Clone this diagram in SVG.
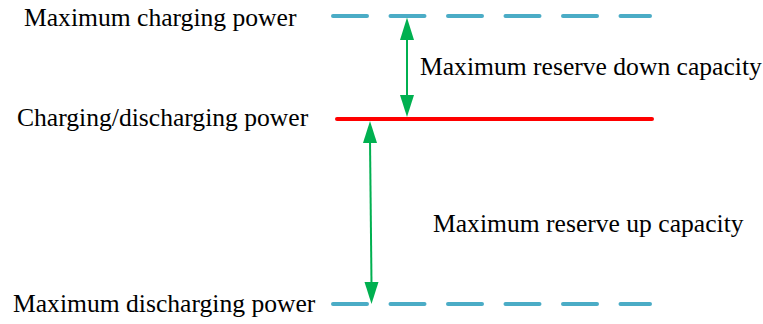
<svg xmlns="http://www.w3.org/2000/svg" width="763" height="324" viewBox="0 0 763 324">
<defs>
<style>
.lbl{font-family:"Liberation Serif","Times New Roman",serif;font-size:25.6px;fill:#000}
.dash{stroke:#4BACC6;stroke-width:4;stroke-linecap:round;stroke-dasharray:34 23.5;fill:none}
.arr{stroke:#00B050;stroke-width:2;fill:none}
.head{fill:#00B050}
</style>
</defs>
<rect width="763" height="324" fill="#fff"/>
<g id="max-charging">
<line class="dash" x1="333" y1="16" x2="650" y2="16"/>
<text class="lbl" x="24" y="26">Maximum charging power</text>
</g>
<g id="charging-discharging">
<line x1="337" y1="119" x2="652" y2="119" stroke="#FF0000" stroke-width="4" stroke-linecap="round"/>
<text class="lbl" x="17" y="126">Charging/discharging power</text>
</g>
<g id="max-discharging">
<line class="dash" x1="333" y1="304" x2="650" y2="304"/>
<text class="lbl" x="13" y="312">Maximum discharging power</text>
</g>
<g id="labels">
<text class="lbl" x="420" y="75">Maximum reserve down capacity</text>
<text class="lbl" x="433" y="232">Maximum reserve up capacity</text>
</g>
<g id="connectors">
<line class="arr" x1="407" y1="38" x2="407" y2="96"/>
<polygon class="head" points="407,17.5 400,40 414,40"/>
<polygon class="head" points="407,117 400,95 414,95"/>
<line class="arr" x1="370" y1="140" x2="371.5" y2="284"/>
<polygon class="head" points="370,121 363,143 377,143"/>
<polygon class="head" points="371.5,304 364.5,282 378.5,282"/>
</g>
</svg>
